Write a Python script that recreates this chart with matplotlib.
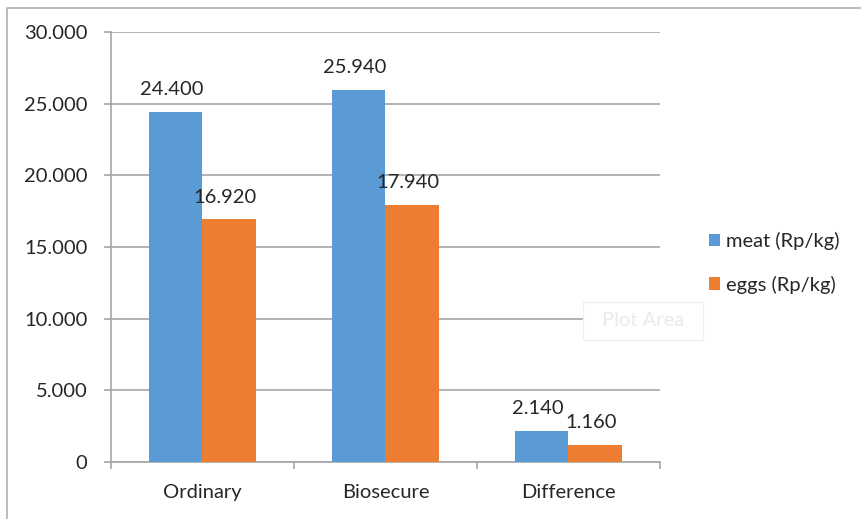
import matplotlib.pyplot as plt
from matplotlib.patches import Rectangle, FancyBboxPatch
from matplotlib.ticker import FuncFormatter
import numpy as np

# Price per kg by farm type
categories = ["Ordinary", "Biosecure", "Difference"]
meat = [24400, 25940, 2140]
eggs = [16920, 17940, 1160]
series_names = ["meat (Rp/kg)", "eggs (Rp/kg)"]

BLUE = "#5B9BD5"
ORANGE = "#ED7D31"
GRID = "#A6A6A6"
TEXT = "#262626"
FS = 14.5

plt.rcParams["font.family"] = ["Lato", "DejaVu Sans"]


def rp(v, pos=None):
    # Indonesian style thousands separator
    return f"{int(round(v)):,}".replace(",", ".")


W, H = 862, 519
fig = plt.figure(figsize=(W / 100, H / 100), dpi=100)

# chart frame
fig.patches.append(Rectangle((7 / W, -0.1), 1.2, 1 - 8 / H + 0.1,
                             transform=fig.transFigure, fill=False,
                             edgecolor="#B0B0B0", linewidth=1.2))

ax = fig.add_axes([111 / W, (H - 462) / H, 549 / W, 430 / H])

x = np.arange(len(categories))
width = 0.29

bars_meat = ax.bar(x - width / 2, meat, width, color=BLUE, label=series_names[0], zorder=3)
bars_eggs = ax.bar(x + width / 2, eggs, width, color=ORANGE, label=series_names[1], zorder=3)

for bars in (bars_meat, bars_eggs):
    for b in bars:
        ax.annotate(rp(b.get_height()),
                    (b.get_x() + b.get_width() / 2, b.get_height()),
                    xytext=(-3, 10), textcoords="offset points",
                    ha="center", va="bottom", fontsize=FS, color=TEXT, zorder=4)

ax.set_xlim(-0.5, 2.5)
ax.set_ylim(0, 30000)
ax.set_yticks(np.arange(0, 30001, 5000))
ax.yaxis.set_major_formatter(FuncFormatter(rp))
ax.grid(axis="y", color=GRID, linewidth=1.2, zorder=0)

ax.set_xticks(x)
ax.set_xticklabels(categories)
ax.set_xticks([-0.5, 0.5, 1.5, 2.5], minor=True)
ax.tick_params(axis="x", which="major", length=0, pad=16, labelsize=FS, labelcolor=TEXT)
ax.tick_params(axis="x", which="minor", length=5, color=GRID, width=1.2)
ax.tick_params(axis="y", length=5, color=GRID, width=1.2, pad=12,
               labelsize=FS, labelcolor=TEXT)

for side in ("top", "right"):
    ax.spines[side].set_visible(False)
for side in ("left", "bottom"):
    ax.spines[side].set_color(GRID)
    ax.spines[side].set_linewidth(1.2)

fig.legend(handles=[bars_meat, bars_eggs], loc="center left",
           bbox_to_anchor=(691 / W, 1 - 263 / H), frameon=False,
           fontsize=FS, handlelength=0.55, handleheight=0.55,
           handletextpad=0.3, labelspacing=1.25, labelcolor=TEXT)

# faint "Plot Area" hover tip
fig.patches.append(FancyBboxPatch((583 / W, (H - 340) / H), 120 / W, 38 / H,
                                  boxstyle="square,pad=0", transform=fig.transFigure,
                                  facecolor="white", edgecolor="#F0F0F0", linewidth=1,
                                  zorder=5))
fig.text(643 / W, 1 - 320 / H, "Plot Area", ha="center", va="center",
         fontsize=FS, color="#EAEAEA", zorder=6)

fig.savefig("out.png", dpi=100)
